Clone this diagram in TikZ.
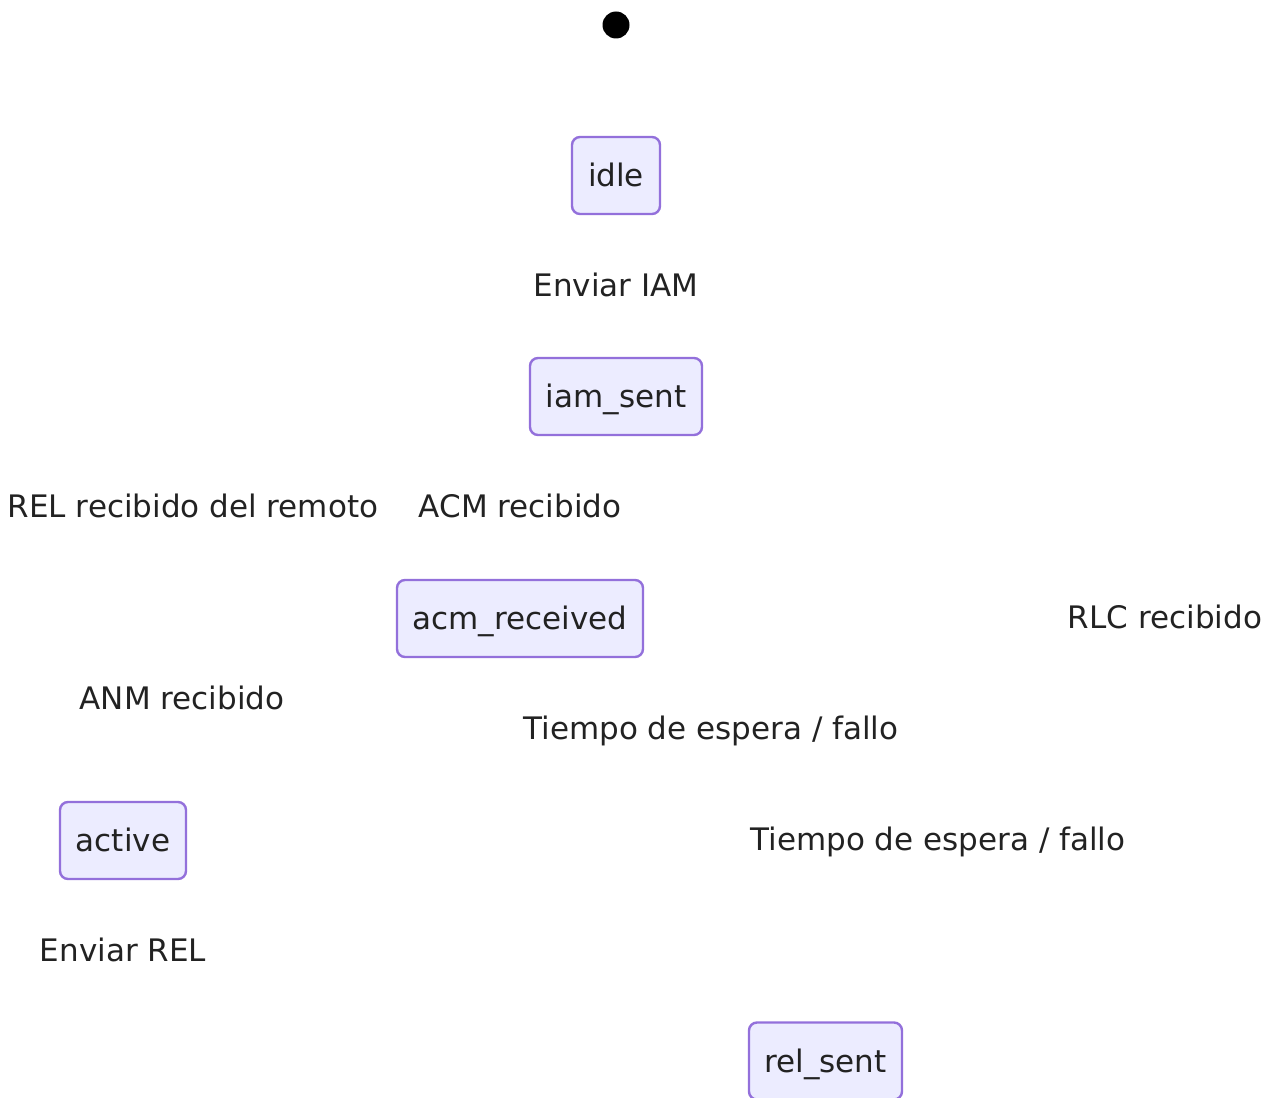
\documentclass[tikz,border=0pt]{standalone}
\usepackage{fontspec}
\setmainfont{DejaVu Sans}
\usetikzlibrary{positioning}

\definecolor{statefill}{HTML}{ECECFF}
\definecolor{stateline}{HTML}{9370DB}
\definecolor{labeltext}{HTML}{222222}

\tikzset{
    statebox/.style={draw=stateline,fill=statefill,line width=2.4pt,rounded corners=8pt,
        inner sep=0pt,minimum height=77pt,text height=26pt,text depth=4pt,text=labeltext},
    translabel/.style={inner sep=0pt,text height=26pt,text depth=4pt,text=labeltext},
    startdot/.style={circle,fill=black,inner sep=0pt,minimum size=27pt}
}

\begin{document}
\begin{tikzpicture}[x=1pt,y=-1pt,font=\fontsize{31}{37}\selectfont]%
        \useasboundingbox (0,0) rectangle (1276,1097);
        % states
        \node[startdot] (start) at (616,25) {};
        \node[statebox,minimum width=88pt] (idle) at (616,175.5) {idle};
        \node[statebox,minimum width=172pt] (iamsent) at (616,396.5) {iam\_sent};
        \node[statebox,minimum width=246pt] (acmrec) at (520,618.5) {acm\_received};
        \node[statebox,minimum width=126pt] (active) at (123,840.5) {active};
        \node[statebox,minimum width=153pt] (relsent) at (825.5,1061) {rel\_sent};
        % transition labels
        \node[translabel] (lbliam) at (616,285) {Enviar IAM};
        \node[translabel] (lblrelrem) at (193,506) {REL recibido del remoto};
        \node[translabel] (lblacm) at (520,506) {ACM recibido};
        \node[translabel] (lblrlc) at (1165,617) {RLC recibido};
        \node[translabel] (lblanm) at (182,698) {ANM recibido};
        \node[translabel] (lbltimeonea) at (711,728) {Tiempo de espera / fallo};
        \node[translabel] (lbltimeoneb) at (938,839) {Tiempo de espera / fallo};
        \node[translabel] (lblrel) at (123,950) {Enviar REL};
    \end{tikzpicture}
\end{document}
